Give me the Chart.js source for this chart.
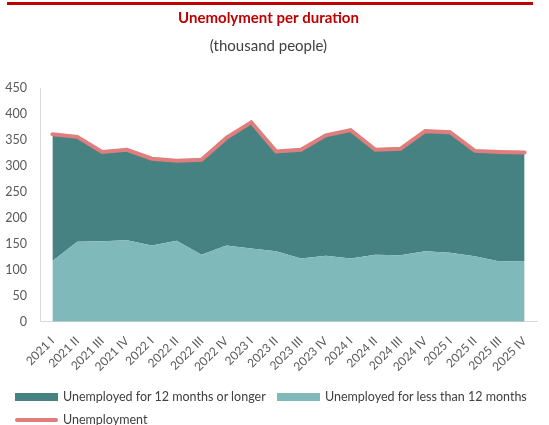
<!DOCTYPE html>
<html>
<head>
<meta charset="utf-8">
<script src="https://cdn.jsdelivr.net/npm/chart.js@4.4.0/dist/chart.umd.min.js"></script>
<style>
  html, body { margin: 0; padding: 0; background: #fff; overflow: hidden; }
  #wrap { position: relative; width: 549px; height: 425px; overflow: hidden; font-family: Lato, sans-serif; }
  #topline { position: absolute; left: 7px; top: 2px; width: 526px; height: 3px; background: #c00000; }
  .leg { position: absolute; font-size: 12.5px; color: #404040; white-space: nowrap; line-height: 14px; }
  .leg i { position: absolute; left: 0; width: 43px; }
  .leg span { position: absolute; left: 48px; top: -7px; }
</style>
</head>
<body>
<div id="wrap">
  <div id="topline"></div>
  <canvas id="chart" width="549" height="425"></canvas>
  <div id="legend"></div>
</div>
<script>
// quarters 2021 I .. 2025 IV
const quarters = ['2021 I', '2021 II', '2021 III', '2021 IV', '2022 I', '2022 II', '2022 III', '2022 IV',
  '2023 I', '2023 II', '2023 III', '2023 IV', '2024 I', '2024 II', '2024 III', '2024 IV',
  '2025 I', '2025 II', '2025 III', '2025 IV'];

// thousand people
const shortTerm = [117, 154, 155, 157, 147, 156, 129, 147, 141, 136, 122, 127, 122, 129, 128, 136, 133, 126, 116, 117];
const longTerm = [244, 202, 172, 174, 167, 154, 183, 207, 243, 192, 209, 232, 247, 202, 205, 231, 232, 203, 211, 209];
const unemployment = [361, 356, 327, 331, 314, 310, 312, 354, 384, 328, 331, 359, 369, 331, 333, 367, 365, 329, 327, 326];

const yTicks = { min: 0, max: 450, step: 50 };

const darkTeal = '#468282';
const lightTeal = '#7fb9b9';
const pink = '#e07d7d';
const tickColor = '#595959';
const font = 'Lato';

const data = {
  labels: quarters,
  datasets: [
    {
      label: 'Unemployed for less than 12 months',
      data: shortTerm,
      backgroundColor: lightTeal,
      borderWidth: 0,
      fill: 'origin',
      pointRadius: 0,
      stack: 'dur',
      order: 2
    },
    {
      label: 'Unemployed for 12 months or longer',
      data: longTerm,
      backgroundColor: darkTeal,
      borderWidth: 0,
      fill: '-1',
      pointRadius: 0,
      stack: 'dur',
      order: 2
    },
    {
      label: 'Unemployment',
      data: unemployment,
      borderColor: pink,
      backgroundColor: pink,
      borderWidth: 4,
      borderCapStyle: 'round',
      fill: false,
      pointRadius: 0,
      stack: 'total',
      order: 1
    }
  ]
};

// legend laid out like the original: two items on the first row, the line below
const legendItems = [
  { ds: 1, x: 15, y: 397, line: false },
  { ds: 0, x: 277, y: 397, line: false },
  { ds: 2, x: 15, y: 420, line: true }
];
const legendEl = document.getElementById('legend');
legendItems.forEach(it => {
  const d = data.datasets[it.ds];
  const div = document.createElement('div');
  div.className = 'leg';
  div.style.left = it.x + 'px';
  div.style.top = it.y + 'px';
  const sw = document.createElement('i');
  if (it.line) {
    sw.style.top = '-2px';
    sw.style.height = '4px';
    sw.style.borderRadius = '2px';
    sw.style.background = d.borderColor;
  } else {
    sw.style.top = '-4px';
    sw.style.height = '8px';
    sw.style.background = d.backgroundColor;
  }
  const tx = document.createElement('span');
  tx.textContent = d.label;
  div.appendChild(sw);
  div.appendChild(tx);
  legendEl.appendChild(div);
});

new Chart(document.getElementById('chart'), {
  type: 'line',
  data: data,
  options: {
    responsive: false,
    animation: false,
    layout: { padding: { left: 0, right: 12, top: 0, bottom: 39 } },
    plugins: {
      title: {
        display: true,
        text: 'Unemolyment per duration',
        color: '#c00000',
        font: { family: font, size: 15, weight: 'bold' },
        padding: { top: 9, bottom: 5 }
      },
      subtitle: {
        display: true,
        text: '(thousand people)',
        color: '#404040',
        font: { family: font, size: 15 },
        padding: { top: 5, bottom: 33 }
      },
      legend: { display: false },
      tooltip: { enabled: false }
    },
    scales: {
      x: {
        offset: true,
        grid: { display: false, drawTicks: false },
        border: { display: true, color: '#d9d9d9', width: 1 },
        ticks: {
          color: tickColor,
          font: { family: font, size: 12 },
          minRotation: 45,
          maxRotation: 45,
          autoSkip: false,
          padding: 12
        }
      },
      y: {
        stacked: true,
        min: yTicks.min,
        max: yTicks.max,
        grid: { display: false, drawTicks: false },
        border: { display: true, color: '#d9d9d9', width: 1 },
        afterFit: s => { s.width = 40; },
        ticks: {
          stepSize: yTicks.step,
          color: tickColor,
          font: { family: font, size: 12.5 },
          padding: 13
        }
      }
    }
  }
});
</script>
</body>
</html>
